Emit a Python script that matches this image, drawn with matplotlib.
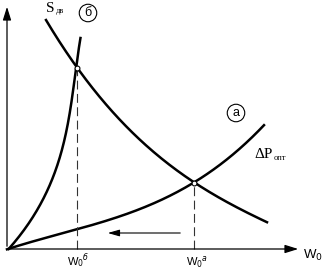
import numpy as np
import matplotlib.pyplot as plt

# curve points (x = W0, y = value), origin at (0, 0)
b_x = [0, 13, 26, 43, 55, 61, 70, 73]
b_y = [0, 11, 32, 66, 99, 129, 181, 211]

a_x = [0, 33, 71, 113, 153, 187, 223, 257]
a_y = [0, 9, 20, 33, 49, 66, 92, 124]

s_x = [39, 53, 70, 93, 123, 153, 187, 223, 260]
s_y = [229, 207, 181, 151, 119, 93, 66, 45, 27]

w_opt_b = (70, 181)
w_opt_a = (187, 66)

fig = plt.figure(figsize=(3.25, 2.72), dpi=100)
ax = fig.add_axes([0, 0, 1, 1])
ax.set_xlim(-7, 318)
ax.set_ylim(-23, 249)
ax.axis('off')

# axes with arrows
ax.annotate('', xy=(0, 245), xytext=(0, 0),
            arrowprops=dict(arrowstyle='-|>,head_length=0.8,head_width=0.25', lw=0.9, color='black'))
ax.annotate('', xy=(294, 0), xytext=(0, 0),
            arrowprops=dict(arrowstyle='-|>,head_length=0.8,head_width=0.25', lw=0.9, color='black'))

# smooth least-squares curves through the read points
yy = np.linspace(b_y[0], b_y[-1], 200)
ax.plot(np.polyval(np.polyfit(b_y, b_x, 3), yy), yy, color='black', lw=1.8)

xx = np.linspace(a_x[0], a_x[-1], 200)
ax.plot(xx, np.polyval(np.polyfit(a_x, a_y, 3), xx), color='black', lw=1.8)

xx = np.linspace(s_x[0], s_x[-1], 200)
ax.plot(xx, np.polyval(np.polyfit(s_x, s_y, 3), xx), color='black', lw=1.8)

# dashed drop lines
for px, py in [w_opt_b, w_opt_a]:
    ax.plot([px, px], [0, py], color='#333333', lw=0.8, dashes=(8, 4))
    ax.plot(px, py, 'o', ms=3.5, mfc='white', mec='black', mew=0.8, zorder=5)

# shift arrow
ax.annotate('', xy=(98, 16), xytext=(176, 16),
            arrowprops=dict(arrowstyle='-|>,head_length=0.7,head_width=0.2', lw=0.8, color='black'))

sans = 'Liberation Sans'
serif = 'Liberation Serif'
ax.text(296, -6, 'W$_0$', fontsize=9.5, family=sans, va='center', ha='left')
ax.text(71, -13, r'W$_0$$^{б}$', fontsize=8, family=sans, ha='center', va='center')
ax.text(190, -13, r'W$_0$$^{а}$', fontsize=8, family=sans, ha='center', va='center')
ax.text(39, 241, 'S', fontsize=11, family=serif, ha='left', va='center')
ax.text(49, 238, 'дв', fontsize=6, family=serif, ha='left', va='center')
ax.text(247, 94, 'ΔP', fontsize=11, family=serif, ha='left', va='center')
ax.text(267, 91, 'опт', fontsize=6, family=serif, ha='left', va='center')
ax.text(81, 236, 'б', fontsize=9, family=sans, ha='center', va='center',
        bbox=dict(boxstyle='circle,pad=0.22', fc='white', ec='black', lw=0.8))
ax.text(229, 136, 'а', fontsize=9, family=sans, ha='center', va='center',
        bbox=dict(boxstyle='circle,pad=0.22', fc='white', ec='black', lw=0.8))

plt.savefig('out.png', dpi=100)
